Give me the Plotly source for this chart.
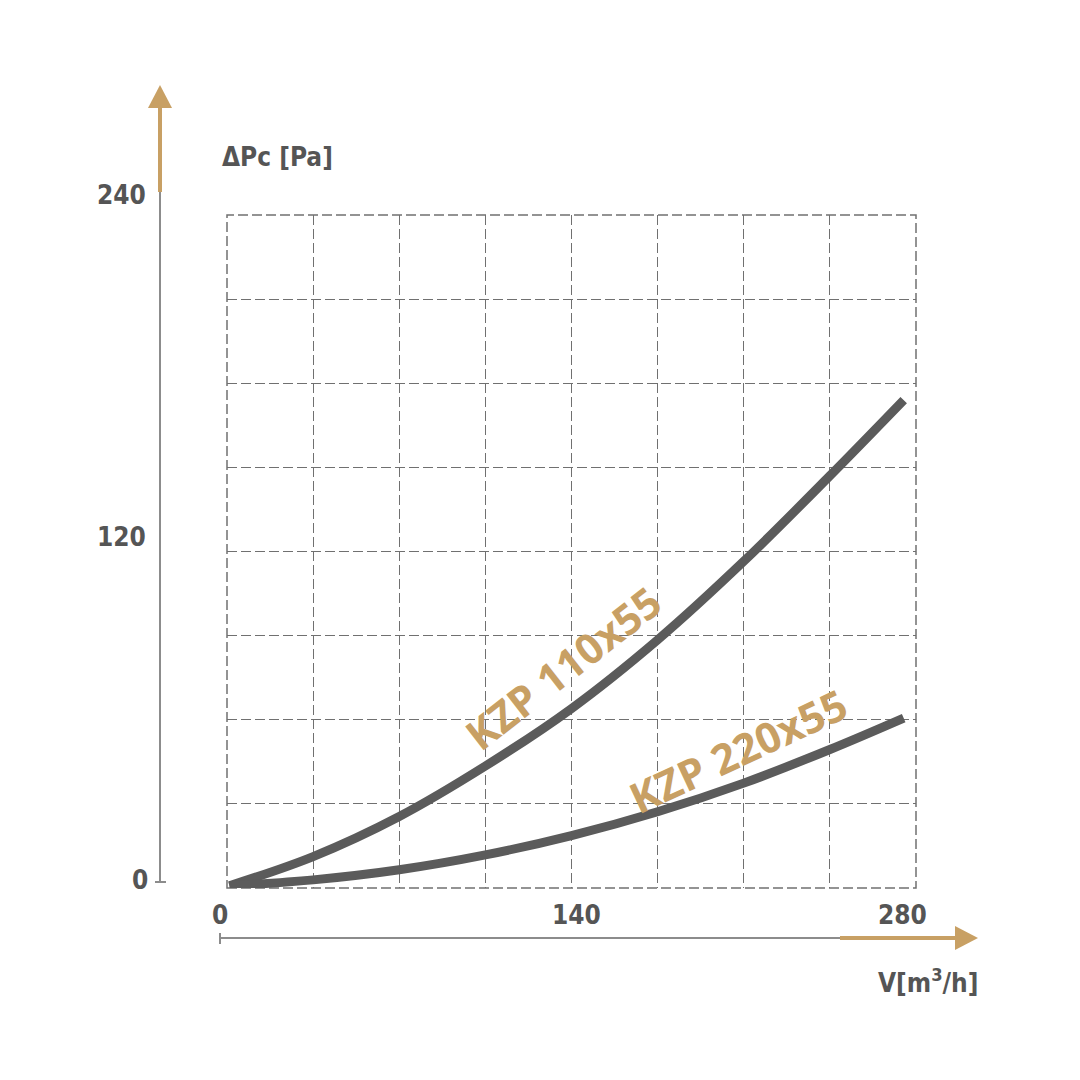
import plotly.graph_objects as go

# Data
flow_110 = [1, 35, 70, 105, 140, 175, 210, 245, 275]
dp_110 = [0.8, 11.2, 25.5, 43.5, 64, 88.5, 116.5, 147, 174]
flow_220 = [1, 35, 70, 105, 140, 175, 210, 245, 275]
dp_220 = [0.8, 2.9, 6.5, 11.8, 18.7, 27.2, 37.4, 49.4, 60.6]

series_names = ["KZP 110x55", "KZP 220x55"]
x_ticks = [0, 140, 280]
y_ticks = [0, 120, 240]

OFF = 8  # page body margin
W = H = 1080
L, R, T, B = 227, 916, 215, 888   # plot area in window pixels


def px(xp):
    return (xp - L) / (R - L)


def py(yp):
    return (B - yp) / (B - T)


CURVE = "#5b5b5b"
TAN = "#c8a064"
AXIS = "#8c8c8c"
TXT = "#555555"
GRID = "#707070"
BOLD_FONT = "Liberation Sans Narrow, DejaVu Sans Condensed, Arial Narrow, sans-serif"
DASH = "10px,4px"

fig = go.Figure()
for xs, ys, name in [(flow_110, dp_110, series_names[0]), (flow_220, dp_220, series_names[1])]:
    fig.add_trace(go.Scatter(x=xs, y=ys, mode="lines", name=name,
                             line=dict(color=CURVE, width=9, shape="spline", smoothing=1.0),
                             showlegend=False, hoverinfo="skip"))

shapes = []
shapes.append(dict(type="rect", xref="paper", yref="paper", x0=0, x1=1, y0=0, y1=1,
                   line=dict(color=GRID, width=1.5, dash=DASH), layer="below"))
# y axis
shapes.append(dict(type="line", xref="paper", yref="paper", x0=px(160), x1=px(160),
                   y0=py(882), y1=py(192), line=dict(color=AXIS, width=2)))
shapes.append(dict(type="line", xref="paper", yref="paper", x0=px(155), x1=px(166),
                   y0=py(882), y1=py(882), line=dict(color=AXIS, width=2)))
shapes.append(dict(type="line", xref="paper", yref="paper", x0=px(160), x1=px(160),
                   y0=py(192), y1=py(106), line=dict(color=TAN, width=4)))
shapes.append(dict(type="path", xref="paper", yref="paper",
                   path=f"M {px(160)},{py(85)} L {px(148)},{py(108)} L {px(172)},{py(108)} Z",
                   fillcolor=TAN, line=dict(color=TAN, width=0)))
# x axis
shapes.append(dict(type="line", xref="paper", yref="paper", x0=px(220), x1=px(840),
                   y0=py(938), y1=py(938), line=dict(color=AXIS, width=2)))
shapes.append(dict(type="line", xref="paper", yref="paper", x0=px(220), x1=px(220),
                   y0=py(933), y1=py(944), line=dict(color=AXIS, width=2)))
shapes.append(dict(type="line", xref="paper", yref="paper", x0=px(840), x1=px(958),
                   y0=py(938), y1=py(938), line=dict(color=TAN, width=4)))
shapes.append(dict(type="path", xref="paper", yref="paper",
                   path=f"M {px(978)},{py(938)} L {px(955)},{py(926)} L {px(955)},{py(950)} Z",
                   fillcolor=TAN, line=dict(color=TAN, width=0)))

ann = []
font_b = dict(family=BOLD_FONT, size=26, color=TXT, weight="bold")
y_label_pos = {0: (140, 880), 120: (121, 537), 240: (121, 195)}
for v in y_ticks:
    xx, yy = y_label_pos[v]
    ann.append(dict(text=str(v), xref="paper", yref="paper", x=px(xx), y=py(yy),
                    showarrow=False, font=font_b, xanchor="center", yanchor="middle"))
x_label_pos = {0: 220, 140: 576, 280: 902}
for v in x_ticks:
    ann.append(dict(text=str(v), xref="paper", yref="paper", x=px(x_label_pos[v]), y=py(915),
                    showarrow=False, font=font_b, xanchor="center", yanchor="middle"))
ann.append(dict(text="ΔPc [Pa]", xref="paper", yref="paper", x=px(220), y=py(157),
                showarrow=False, font=font_b, xanchor="left", yanchor="middle"))
ann.append(dict(text="V[m<sup>3</sup>/h]", xref="paper", yref="paper", x=px(980), y=py(981),
                showarrow=False, font=font_b, xanchor="right", yanchor="middle"))
font_c = dict(family="Open Sans, sans-serif", size=42, color=TAN, weight="bold")
ann.append(dict(text=series_names[0], x=136.5, y=78.5, xref="x", yref="y", showarrow=False,
                font=font_c, textangle=-38, xanchor="center", yanchor="middle"))
ann.append(dict(text=series_names[1], x=207.5, y=49, xref="x", yref="y", showarrow=False,
                font=font_c, textangle=-25, xanchor="center", yanchor="middle"))

fig.update_layout(
    width=W, height=H,
    margin=dict(l=L - OFF, r=W - (R - OFF), t=T - OFF, b=H - (B - OFF)),
    paper_bgcolor="white", plot_bgcolor="white",
    xaxis=dict(range=[0, 280], tick0=0, dtick=35, showgrid=True, gridcolor=GRID,
               griddash=DASH, gridwidth=1.4, zeroline=False, showticklabels=False,
               showline=False, ticks=""),
    yaxis=dict(range=[0, 240], tick0=0, dtick=30, showgrid=True, gridcolor=GRID,
               griddash=DASH, gridwidth=1.4, zeroline=False, showticklabels=False,
               showline=False, ticks=""),
    shapes=shapes, annotations=ann,
)

fig.write_html("out.html")
